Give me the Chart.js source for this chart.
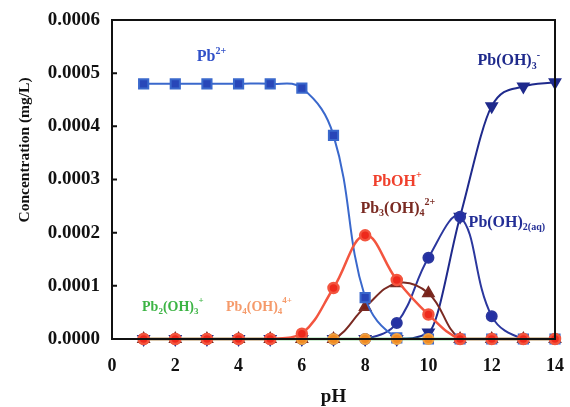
<!DOCTYPE html>
<html>
<head>
<meta charset="utf-8">
<script src="https://cdn.jsdelivr.net/npm/chart.js@4.4.1/dist/chart.umd.min.js"></script>
<style>
  html, body { margin: 0; padding: 0; background: #fff; }
  #wrap { width: 570px; height: 407px; position: relative; }
</style>
</head>
<body>
<div id="wrap"><canvas id="speciesChart"></canvas></div>
<script>
const pH = [1, 2, 3, 4, 5, 6, 7, 8, 9, 10, 11, 12, 13, 14];
const xTicks = [0, 2, 4, 6, 8, 10, 12, 14];
const yTicks = [0, 0.0001, 0.0002, 0.0003, 0.0004, 0.0005, 0.0006];

const pb2 = [0.00048, 0.00048, 0.00048, 0.00048, 0.00048, 0.000472, 0.000383, 0.000078, 0.000002, 0, 0, 0, 0, 0];
const pbOH = [0, 0, 0, 0, 0, 0.00001, 0.000096, 0.000195, 0.000111, 0.000046, 0, 0, 0, 0];
const pb3OH4 = [0, 0, 0, 0, 0, 0, 0, 0.00006, 0.000105, 0.000086, 0, 0, 0, 0];
const pbOH2 = [0, 0, 0, 0, 0, 0, 0, 0, 0.00003, 0.000153, 0.00023, 0.000043, 0, 0];
const pbOH3 = [0, 0, 0, 0, 0, 0, 0, 0, 0, 0.000012, 0.00023, 0.000438, 0.000475, 0.000483];
const pb2OH3 = [0, 0, 0, 0, 0, 0, 0, 0, 0, 0, 0, 0, 0, 0];
const pb4OH4 = [0, 0, 0, 0, 0, 0, 0, 0, 0, 0, 0, 0, 0, 0];

// species labels: anchor in data units, parts are [text, 'n'|'sub'|'sup']
const speciesLabels = [
  { x: 2.68, y: 0.00053, size: 16, color: '#3050c8', parts: [['Pb', 'n'], ['2+', 'sup']] },
  { x: 11.55, y: 0.000523, size: 16, color: '#1f2a8c', parts: [['Pb(OH)', 'n'], ['3', 'sub'], ['-', 'sup']] },
  { x: 8.23, y: 0.000296, size: 16, color: '#f0402c', parts: [['PbOH', 'n'], ['+', 'sup']] },
  { x: 7.85, y: 0.000245, size: 16, color: '#7a2a22', parts: [['Pb', 'n'], ['3', 'sub'], ['(OH)', 'n'], ['4', 'sub'], ['2+', 'sup']] },
  { x: 11.27, y: 0.000219, size: 16, color: '#232e96', parts: [['Pb(OH)', 'n'], ['2(aq)', 'sub']] },
  { x: 0.95, y: 0.00006, size: 14, color: '#3cb444', parts: [['Pb', 'n'], ['2', 'sub'], ['(OH)', 'n'], ['3', 'sub'], ['+', 'sup']] },
  { x: 3.6, y: 0.00006, size: 14, color: '#f59a6a', parts: [['Pb', 'n'], ['4', 'sub'], ['(OH)', 'n'], ['4', 'sub'], ['4+', 'sup']] }
];

const serif = '"Liberation Serif", "Times New Roman", serif';

function series(values) {
  return values.map((v, i) => ({ x: pH[i], y: v }));
}

const frameAndLabels = {
  id: 'frameAndLabels',
  afterDatasetsDraw(chart) {
    const { ctx, chartArea, scales } = chart;
    ctx.save();
    ctx.strokeStyle = '#111';
    ctx.lineWidth = 2;
    ctx.strokeRect(chartArea.left, chartArea.top, chartArea.right - chartArea.left, chartArea.bottom - chartArea.top);
    ctx.beginPath();
    yTicks.forEach(t => {
      const y = scales.y.getPixelForValue(t);
      ctx.moveTo(chartArea.left, y);
      ctx.lineTo(chartArea.left + 5, y);
    });
    ctx.stroke();

    ctx.textBaseline = 'middle';
    ctx.textAlign = 'left';
    speciesLabels.forEach(lab => {
      let x = scales.x.getPixelForValue(lab.x);
      const y = scales.y.getPixelForValue(lab.y);
      const small = Math.round(lab.size * 0.65);
      ctx.fillStyle = lab.color;
      lab.parts.forEach(([txt, kind]) => {
        const size = kind === 'n' ? lab.size : small;
        const dy = kind === 'sub' ? 5 : kind === 'sup' ? -6 : 0;
        ctx.font = 'bold ' + size + 'px ' + serif;
        ctx.fillText(txt, x, y + dy);
        x += ctx.measureText(txt).width;
      });
    });

    // axis titles
    ctx.fillStyle = '#111';
    ctx.textAlign = 'center';
    ctx.font = 'bold 19px ' + serif;
    ctx.fillText('pH', (chartArea.left + chartArea.right) / 2, 397);
    ctx.translate(25, 150);
    ctx.rotate(-Math.PI / 2);
    ctx.font = 'bold 15.5px ' + serif;
    ctx.fillText('Concentration (mg/L)', 0, 0);
    ctx.restore();
  }
};

const ctx = document.getElementById('speciesChart');

new Chart(ctx, {
  type: 'line',
  data: {
    datasets: [
      {
        label: 'PbOH+',
        data: series(pbOH),
        borderColor: '#f3553f',
        backgroundColor: '#ee2a1c',
        pointStyle: 'circle',
        pointRadius: 5,
        borderWidth: 2.5
      },
      {
        label: 'Pb4(OH)4 4+',
        data: series(pb4OH4),
        borderColor: '#f0a040',
        backgroundColor: '#f08a22',
        pointStyle: 'circle',
        pointRadius: 5,
        borderWidth: 2
      },
      {
        label: 'Pb2(OH)3+',
        data: series(pb2OH3),
        borderColor: '#3cb444',
        backgroundColor: '#3cb444',
        pointRadius: 0,
        borderWidth: 2.5
      },
      {
        label: 'Pb2+',
        data: series(pb2),
        borderColor: '#3a68cc',
        backgroundColor: '#2846b8',
        pointStyle: 'rect',
        pointRadius: 6.5,
        borderWidth: 2
      },
      {
        label: 'Pb3(OH)4 2+',
        data: series(pb3OH4),
        borderColor: '#7a2a22',
        backgroundColor: '#7a2218',
        pointStyle: 'triangle',
        pointRadius: 6,
        borderWidth: 2
      },
      {
        label: 'Pb(OH)2(aq)',
        data: series(pbOH2),
        borderColor: '#2b379e',
        backgroundColor: '#2430a4',
        pointStyle: 'circle',
        pointRadius: 5,
        borderWidth: 2
      },
      {
        label: 'Pb(OH)3-',
        data: series(pbOH3),
        borderColor: '#1f2a8c',
        backgroundColor: '#1f2a8c',
        pointStyle: 'triangle',
        pointRotation: 180,
        pointRadius: 6,
        borderWidth: 2,
        cubicInterpolationMode: 'monotone'
      }
    ]
  },
  options: {
    responsive: true,
    maintainAspectRatio: false,
    animation: false,
    devicePixelRatio: 1,
    layout: { padding: { top: 20, right: 15, left: 0, bottom: 0 } },
    datasets: {
      line: { clip: 8 }
    },
    elements: {
      line: { tension: 0.4, fill: false },
      point: { borderWidth: 0 }
    },
    plugins: {
      legend: { display: false },
      tooltip: { enabled: false }
    },
    scales: {
      x: {
        type: 'linear',
        min: 0,
        max: 14,
        afterBuildTicks: s => { s.ticks = xTicks.map(v => ({ value: v })); },
        afterFit: s => {
          s.height = 68;
          s.paddingLeft = 0;
          s.paddingRight = 0;
        },
        grid: { display: false, drawTicks: false },
        border: { display: false },
        ticks: {
          padding: 17,
          color: '#111',
          font: { family: serif, size: 18, weight: 'bold' }
        }
      },
      y: {
        min: 0,
        max: 0.0006,
        afterBuildTicks: s => { s.ticks = yTicks.map(v => ({ value: v })); },
        afterFit: s => {
          s.width = 112;
          s.paddingTop = 0;
          s.paddingBottom = 0;
        },
        grid: { display: false, drawTicks: false },
        border: { display: false },
        ticks: {
          padding: 12,
          color: '#111',
          callback: v => v.toFixed(4),
          font: { family: serif, size: 19, weight: 'bold' }
        }
      }
    }
  },
  plugins: [frameAndLabels]
});
</script>
</body>
</html>
